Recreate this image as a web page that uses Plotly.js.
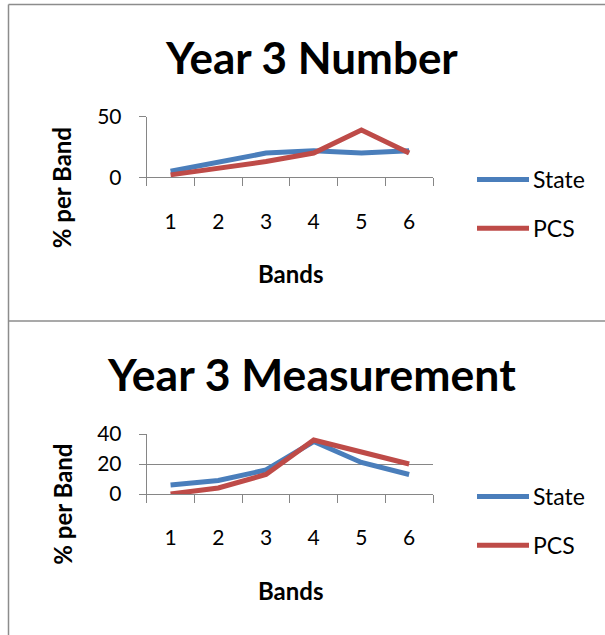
<!DOCTYPE html>
<html>
<head>
<meta charset="utf-8">
<script src="https://cdn.plot.ly/plotly-3.0.1.min.js"></script>
<style>
  html, body { margin: 0; padding: 0; background: #fff; }
  #chart { width: 605px; height: 635px; }
</style>
</head>
<body>
<div id="chart"></div>
<script>
// Bands on the x axis
const bands = ['1', '2', '3', '4', '5', '6'];

// Year 3 Number: % of students per band
const numberState = [5, 12, 20, 22, 20, 22];
const numberPCS   = [2, 7, 13, 20, 39, 20];

// Year 3 Measurement: % of students per band
const measureState = [6, 9, 16, 35, 21, 13];
const measurePCS   = [0, 4, 13, 36, 28, 20];

const W = 605, H = 635;
const px = x => x / W;          // pixel -> paper x
const py = y => 1 - y / H;      // pixel -> paper y

const BLUE = '#4A7EBB';
const RED = '#BE4B48';
const GREY = '#868686';
const FONT = 'Lato, "Open Sans", sans-serif';

function series(name, y, color, xa, ya, legend) {
  return {
    type: 'scatter', mode: 'lines', name: name,
    x: bands, y: y, xaxis: xa, yaxis: ya, legend: legend,
    legendgroup: legend + name,
    line: { color: color, width: 5, shape: 'linear' },
    hoverinfo: 'skip'
  };
}

const data = [
  series('State', numberState, BLUE, 'x', 'y', 'legend'),
  series('PCS', numberPCS, RED, 'x', 'y', 'legend'),
  series('State', measureState, BLUE, 'x2', 'y2', 'legend2'),
  series('PCS', measurePCS, RED, 'x2', 'y2', 'legend2')
];

const xCommon = {
  type: 'category', domain: [px(146.7), px(433)],
  range: [-0.5, bands.length - 0.5], autorange: false,
  showline: true, linecolor: GREY, linewidth: 1,
  showgrid: false, zeroline: false,
  ticks: 'outside', tickson: 'boundaries', ticklen: 8, tickcolor: GREY, tickwidth: 1,
  tickfont: { family: FONT, size: 21, color: '#000' },
  ticklabelstandoff: 25,
  fixedrange: true
};
const yCommon = {
  showline: true, linecolor: GREY, linewidth: 1,
  showgrid: true, gridcolor: GREY, gridwidth: 1, zeroline: false,
  ticks: 'outside', ticklen: 7, tickcolor: GREY, tickwidth: 1,
  tickfont: { family: FONT, size: 21, color: '#000' },
  ticklabelstandoff: 13,
  fixedrange: true
};

const legendCommon = {
  font: { family: FONT, size: 23, color: '#000' },
  bgcolor: 'rgba(0,0,0,0)', borderwidth: 0,
  xanchor: 'left', yanchor: 'middle',
  traceorder: 'grouped', tracegroupgap: 16
};

function ann(text, x, y, size, bold, angle) {
  return {
    text: bold ? '<b>' + text + '</b>' : text,
    xref: 'paper', yref: 'paper', x: px(x), y: py(y),
    xanchor: 'center', yanchor: 'middle', showarrow: false,
    textangle: angle || 0,
    font: { family: FONT, size: size, color: '#000' }
  };
}

const border = { color: '#8C8C8C', width: 1.5 };
const layout = {
  width: W, height: H,
  margin: { l: 0, r: 0, t: 0, b: 0 },
  paper_bgcolor: '#fff', plot_bgcolor: 'rgba(0,0,0,0)',
  showlegend: true,
  xaxis: Object.assign({}, xCommon, { anchor: 'y' }),
  yaxis: Object.assign({}, yCommon, { anchor: 'x', domain: [py(177.3), py(116.7)], range: [0, 50], dtick: 50 }),
  xaxis2: Object.assign({}, xCommon, { anchor: 'y2' }),
  yaxis2: Object.assign({}, yCommon, { anchor: 'x2', domain: [py(494), py(434)], range: [0, 40], dtick: 20 }),
  legend: Object.assign({}, legendCommon, { x: px(493), y: py(204) }),
  legend2: Object.assign({}, legendCommon, { x: px(493), y: py(521) }),
  annotations: [
    ann('Year 3 Number', 311, 57, 44, true),
    ann('% per Band', 61.7, 187.5, 24, true, -90),
    ann('Bands', 291, 273, 24, true),
    ann('Year 3 Measurement', 311.5, 373, 44.5, true),
    ann('% per Band', 61.7, 504, 24, true, -90),
    ann('Bands', 291, 590, 24, true)
  ],
  shapes: [
    { type: 'line', xref: 'paper', yref: 'paper', x0: px(8.5), x1: 1, y0: py(4.5), y1: py(4.5), line: border },
    { type: 'line', xref: 'paper', yref: 'paper', x0: px(8.5), x1: px(8.5), y0: py(4.5), y1: 0, line: border },
    { type: 'line', xref: 'paper', yref: 'paper', x0: px(8.5), x1: 1, y0: py(321), y1: py(321), line: border }
  ]
};

// longer legend line samples, ending just before the label text
function stretchLegendLines(gd) {
  gd.querySelectorAll('g.legendlines path').forEach(p => {
    p.setAttribute('d', 'M-16,0h52');
    // let the sample reach left of the legend box
    let el = p.parentNode;
    while (el && el !== gd && !(el.classList && el.classList.contains('infolayer'))) {
      if (el.removeAttribute) el.removeAttribute('clip-path');
      el = el.parentNode;
    }
  });
}

Plotly.newPlot('chart', data, layout, { displayModeBar: false }).then(gd => {
  stretchLegendLines(gd);
  gd.on('plotly_afterplot', () => stretchLegendLines(gd));
  setTimeout(() => stretchLegendLines(gd), 50);
});
</script>
</body>
</html>
